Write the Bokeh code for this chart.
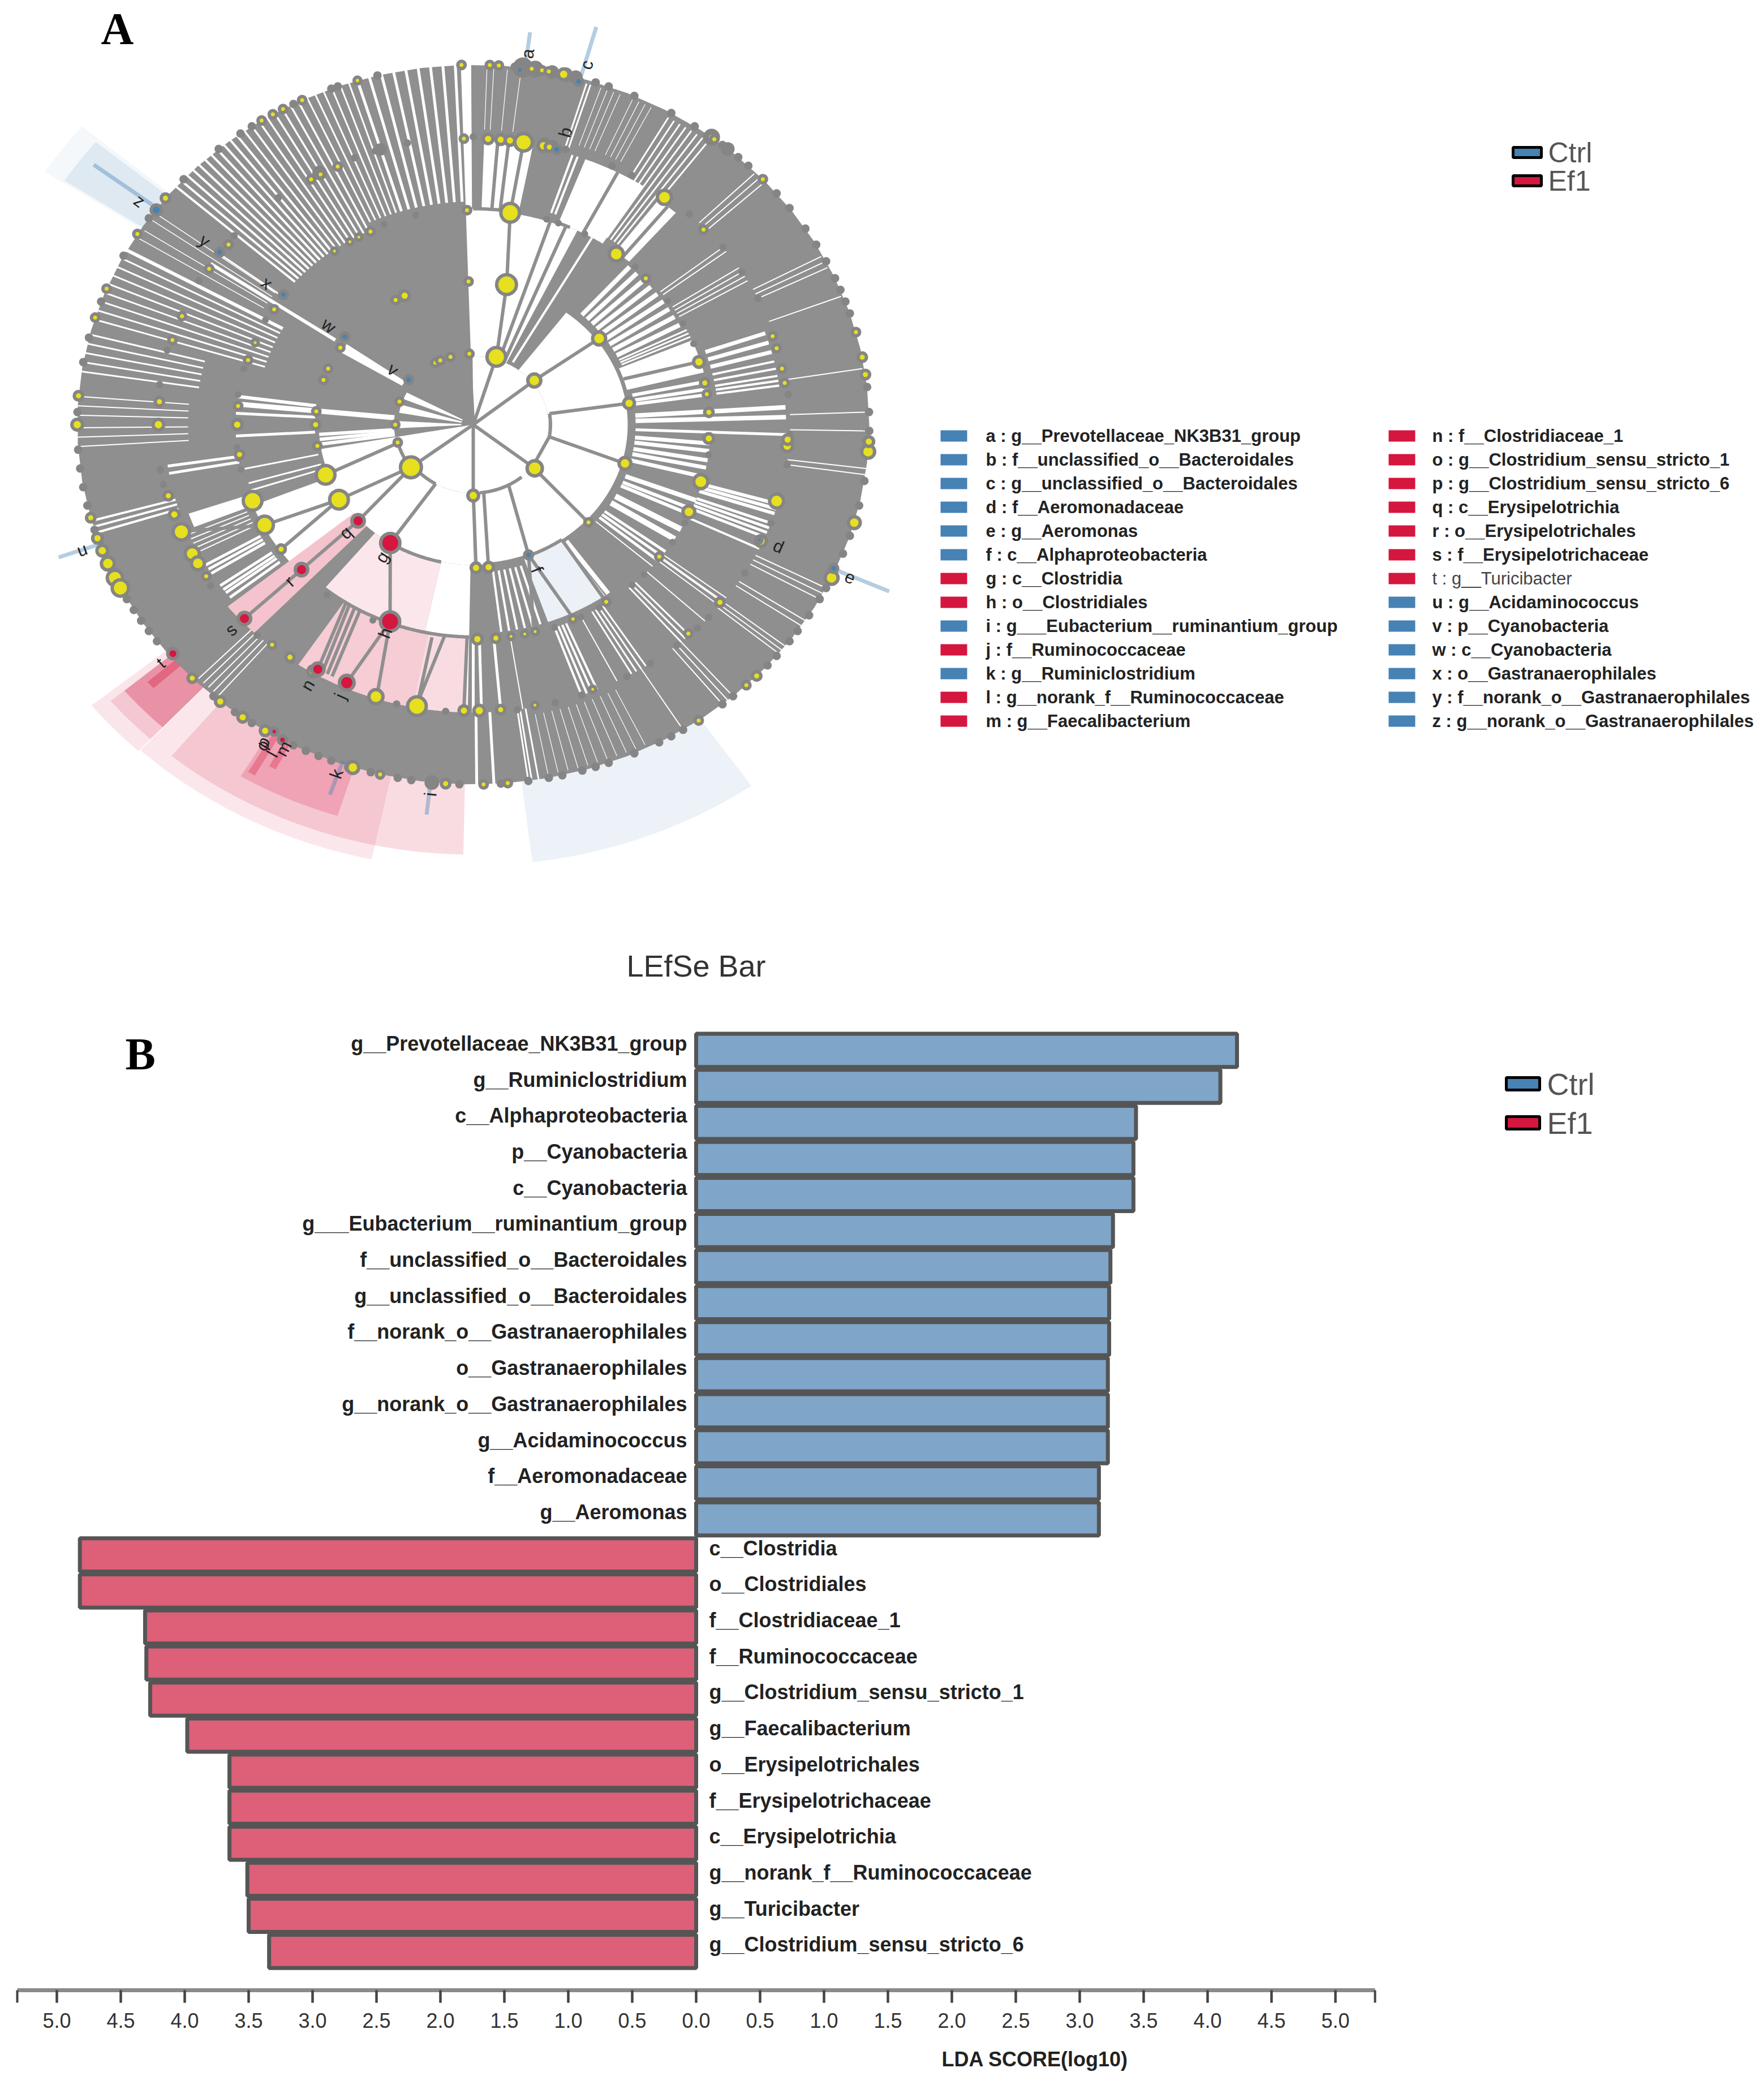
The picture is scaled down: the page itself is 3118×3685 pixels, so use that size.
import numpy as np
from bokeh.plotting import figure
from bokeh.layouts import column
from bokeh.embed import file_html
from bokeh.resources import INLINE
from bokeh.core.properties import value
from bokeh.models import Range1d, FixedTicker, Label, BoxAnnotation

# ---------- data: LDA bars ----------
CTRL_NAMES = ["g__Prevotellaceae_NK3B31_group", "g__Ruminiclostridium", "c__Alphaproteobacteria",
              "p__Cyanobacteria", "c__Cyanobacteria", "g___Eubacterium__ruminantium_group",
              "f__unclassified_o__Bacteroidales", "g__unclassified_o__Bacteroidales",
              "f__norank_o__Gastranaerophilales", "o__Gastranaerophilales",
              "g__norank_o__Gastranaerophilales", "g__Acidaminococcus", "f__Aeromonadaceae", "g__Aeromonas"]
CTRL_LDA = [4.23, 4.10, 3.44, 3.42, 3.42, 3.26, 3.24, 3.23, 3.23, 3.22, 3.22, 3.22, 3.15, 3.15]
EF1_NAMES = ["c__Clostridia", "o__Clostridiales", "f__Clostridiaceae_1", "f__Ruminococcaceae",
             "g__Clostridium_sensu_stricto_1", "g__Faecalibacterium", "o__Erysipelotrichales",
             "f__Erysipelotrichaceae", "c__Erysipelotrichia", "g__norank_f__Ruminococcaceae",
             "g__Turicibacter", "g__Clostridium_sensu_stricto_6"]
EF1_LDA = [-4.82, -4.82, -4.31, -4.30, -4.27, -3.98, -3.65, -3.65, -3.65, -3.51, -3.50, -3.34]
X_TICKS = [-5.0, -4.5, -4.0, -3.5, -3.0, -2.5, -2.0, -1.5, -1.0, -0.5, 0.0, 0.5, 1.0, 1.5, 2.0, 2.5, 3.0, 3.5, 4.0, 4.5, 5.0]
GROUPS = ["Ctrl", "Ef1"]

# ---------- data: cladogram key ----------
KEY_1 = ["a : g__Prevotellaceae_NK3B31_group", "b : f__unclassified_o__Bacteroidales",
         "c : g__unclassified_o__Bacteroidales", "d : f__Aeromonadaceae", "e : g__Aeromonas",
         "f : c__Alphaproteobacteria", "g : c__Clostridia", "h : o__Clostridiales",
         "i : g___Eubacterium__ruminantium_group", "j : f__Ruminococcaceae", "k : g__Ruminiclostridium",
         "l : g__norank_f__Ruminococcaceae", "m : g__Faecalibacterium"]
KEY_1_GROUP = ["C", "C", "C", "C", "C", "C", "E", "E", "C", "E", "C", "E", "E"]
KEY_2 = ["n : f__Clostridiaceae_1", "o : g__Clostridium_sensu_stricto_1", "p : g__Clostridium_sensu_stricto_6",
         "q : c__Erysipelotrichia", "r : o__Erysipelotrichales", "s : f__Erysipelotrichaceae",
         "t : g__Turicibacter", "u : g__Acidaminococcus", "v : p__Cyanobacteria", "w : c__Cyanobacteria",
         "x : o__Gastranaerophilales", "y : f__norank_o__Gastranaerophilales", "z : g__norank_o__Gastranaerophilales"]
KEY_2_GROUP = ["E", "E", "E", "E", "E", "E", "E", "C", "C", "C", "C", "C", "C"]

# ---------- data: cladogram (radius in ring units, angle in degrees) ----------
LETTERS = ["a","b","c","d","e","f","g","h","i","j","k","l","m","n","o","p","q","r","s","t","u","v","w","x","y","z"]
LETTER_R = [1.04,.845,1.04,.842,1.042,.434,.434,.62,1.033,.826,1.03,1.047,1.02,.836,1.038,1.03,.44,.636,.836,1.03,1.047,.254,.457,.653,.849,1.047]
LETTER_T = [82.4,74,74,-23.7,-24,-68.2,-122,-111,-96,-114,-109.6,-119,-118,-120,-120.8,-121,-137,-136.8,-137,-140,-160.6,143,143,143,143,143.6]

# outer shades: r0, r1, t0, t1, colour group, alpha
SHADE_OUT = [
    (.9, 1.235, -132.9, -102, "E", .1), (.9, 1.24, -141, -133, "E", .11),
    (.9, 1.195, -129.6, -91.2, "E", .15), (.9, 1.195, -140, -133, "E", .14),
    (.9, 1.14, -121, -107.5, "E", .2), (.9, 1.15, -140, -133, "E", .3),
    (.9, 1.09, -139, -137.8, "E", .35), (.9, 1.12, -120.5, -119.5, "E", .3), (.9, 1.08, -118.5, -117.5, "E", .3),
    (.9, 1.225, -83, -55, "C", .1), (.9, 1.29, 140, 147, "C", .06), (.9, 1.235, 140.5, 146.7, "C", .12),
]
# white gaps of the tree: r0, r1, t0, t1
WHITE = [
    (0, .19, -170, 90.5), (.03, .19, 152, 158), (.03, .19, 163, 170), (.03, .19, 177, 183),
    (.19, .39, -90, 53), (.19, .39, -170, -90), (.19, .6, 64, 90.5), (.2, 1.0, 90.3, 91.8),
    (.6, .79, 79, 88), (.6, .79, 57, 69), (.6, .78, 49, 53), (.4, .6, 14, 23),
    (.39, .59, -102, -91), (.39, .59, -129.5, -102), (.39, .6, -158, -140.5), (.39, .8, -140.8, -133.7),
    (.59, .8, -123.5, -91), (.39, .58, -71, -55), (.21, .39, 145, 149),
    (.6, .76, -161, -158),
]
# tints over the white gaps: r0, r1, t0, t1, group, alpha
SHADE_IN = [
    (.39, .59, -129.5, -102, "E", .1), (.59, .8, -123.5, -101, "E", .22), (.59, .8, -101, -91.2, "E", .15),
    (.39, .8, -140.8, -133.7, "E", .26), (.39, .58, -71, -55, "C", .11),
]
# white slits: r0, r1, width, angles
SLITS = [
    (.62, 1.006, 5, [92.6, 94.4, 96.2, 98, 99.8, 101.6, 103.4, 105.2, 107]),
    (.62, 1.006, 3, [108.3, 109.6, 110.9, 112.2, 113.5, 114.8]),
    (.6, 1.006, 3.5, [116.2, 117.5, 118.8, 120.1, 121.4, 122.7, 124, 125.3]),
    (.6, 1.006, 4, [126.6, 127.8, 129, 130.2, 131.4, 132.6, 133.8, 135, 136.2, 137.4, 138.6]),
    (.62, .99, 1.5, [143.8, 145, 147, 148.5]),
    (.42, .8, 6, [146]), (.6, .8, 3, [143.5]),
    (.55, 1.006, 6, [151]),
    (.55, 1.006, 3, [152.5, 154, 155.5, 157, 158.5, 160, 161.5, 163]),
    (.7, 1.006, 3, [165.5, 167, 168.5, 170, 171.5]),
    (.72, 1.006, 2, [175.5, 177, 178.5, 180.5, 182, 183.5]),
    (.4, .6, 6, [172.5]), (.2, .6, 9, [174.5]), (.4, .6, 5, [177, 183]),
    (.2, .39, 6, [-176, -174, -172]),
    (.6, .78, 5, [-171.5, -170]),
    (.4, .59, 3, [-168, -164, -162]),
    (.78, 1.0, 4, [-164.5, -163.5, -162.5]),
    (.62, .78, 2, [-157, -156, -155, -154, -153]),
    (.62, .78, 5, [-150, -149, -148, -145, -144, -143.2, -142]),
    (.8, .99, 2, [-134.5, -133.5, -132.5, -131.5, -130.5]),
    (.62, .79, 4, [71.5, 70.5]), (.8, .99, 3, [73.2, 72.6]),
    (.62, .985, 3, [60, 59, 58, 57, 56, 55, 54, 53]),
    (.2, .6, 4, [60]),
    (.41, .59, 8, [48, 45.5, 43, 40.5, 38, 35.5, 33, 30.5, 28]),
    (.41, .6, 3, [26, 25, 24]),
    (.62, .78, 7, [19, 17, 15]), (.62, .78, 4, [13, 11.5, 10, 9, 8]),
    (.41, .6, 6, [11.5, 9.5, 8]),
    (.41, .79, 8, [3.5, 1.5]), (.41, .8, 5, [-2]),
    (.8, .995, 2, [28, 27, 26, 21, 9, 2, 44.5, 43.5, 42.5]),
    (.6, .8, 2, [38, 37, 33, 32, 31, 30]),
    (.41, .6, 7, [-5, -7, -9.5, -11.5, -14]),
    (.41, .6, 8, [-20.5]), (.41, .6, 6, [-23, -24.5]), (.41, .6, 10, [-29, -32]),
    (.41, .6, 5, [-36, -37.5, -39]), (.41, .6, 2, [-41]), (.4, .58, 8, [-54]),
    (.41, .58, 4, [-73, -75, -77, -79, -81, -83]),
    (.6, .8, 4, [-70, -69, -68, -67]), (.6, .8, 3, [-60, -59, -58, -57, -47, -48, -49]),
    (.6, .8, 5, [-90, -88.5, -85]), (.6, .8, 2, [-81, -63, -43, -39, -37]), (.6, .8, 4, [-38, -25.5]),
    (.6, .8, 5, [-23, -22, -21, -20]), (.6, .8, 6, [-18, -17, -16]),
    (.8, 1.0, 2, [-38, -38.8, -39.5, -49, -50, -51, -58, -27, -28, -29, -33, -34, -7, -8, -1]),
    (.8, 1.0, 3, [-82, -81.5, -80.5]), (.8, 1.0, 5, [-89.5, -87]),
    (.82, .99, 1.2, [88, 87, 85, 83, 71, 70, 69, 68, 66, 65, 64, 63, -79, -77.5, -76, -74.5, -73, -71.5, -70, -68.5, -67, -65.5, -64]),
]
# tree branches: r0, t0, r1, t1
BRANCH = [
    (0, 0, .2, 38.5), (0, 0, .2, 72.8), (0, 0, .2, 92.8), (0, 0, .19, -38), (0, 0, .19, -90), (0, 0, .195, -143),
    (.2, 38.5, .398, 37), (.195, 9, .395, 8.6), (.195, -10, .395, -15.7), (.19, -38, .195, -10), (.2, 72.8, .4, 77.8),
    (.4, 77.8, .596, 81), (.596, 81, .79, 80.8), (.2, 70, .6, 71), (.2, 66, .6, 67),
    (.6, 85.5, .79, 85.5), (.6, 83.5, .79, 83.5), (.6, 62.5, .79, 62.5), (.6, 51, .78, 51), (.4, 18.5, .6, 17),
    (.19, -38, .39, -43), (.19, -62, .388, -68.9), (.19, -82, .39, -84.4), (.19, -90, .39, -89), (.39, -89, .6, -89),
    (.39, -84.4, .6, -84.5), (.388, -68.9, .584, -65), (.388, -68.9, .58, -74.8), (.39, -55, .584, -55.7),
    (.195, -143, .395, -137.4), (.195, -143, .398, -148.4), (.19, -120, .39, -122.5), (.39, -122.5, .586, -111),
    (.398, -148.4, .598, -152.1), (.398, -148.4, .597, -144.5), (.197, -165, .397, -159.5), (.397, -159.5, .596, -159.2), (.598, -152.1, .79, -158),
    (.395, -137.4, .592, -137.1), (.592, -137.1, .79, -137),
    (.586, -111, .782, -108), (.586, -111, .785, -114), (.59, -97, .784, -100.3), (.59, -91.5, .78, -91.7),
    (.59, -123, .785, -120), (.59, -122, .785, -119), (.59, -120.5, .785, -118), (.59, -119, .785, -117),
    (.6, -100, .79, -100.3),
]
# arcs: r, t0, t1
ARCS = [(.195, -10, 9), (.19, -85, -50), (.59, -129.5, -91), (.19, -143, -120), (.39, -85, -55), (.6, 66, 90), (.39, -122, -102), (.197, -165, -143)]

# yellow nodes per ring: (theta, size)
YELLOW_10 = [(87.6,10),(86.3,10),(81.5,10),(80,10),(79,10),(76.8,16),(91.7,10),(107,9),(115.6,10),(118.7,10),(120.4,10),(122.3,10),
             (141,12),(148,10),(157.8,10),(162.7,10),(175.4,12),(180,16),(-165,12),(-161.6,14),(-159.5,16),(-157.3,20),(-154.8,24),(-153,26),
             (-135.2,12),(-129.7,14),(-125.6,14),(-121.7,14),(-107.7,18),(-103.6,10),(-94,12),(-88.5,10),(-85,10),(-55.3,10),(-46.4,10),(-44.3,12),
             (-25.2,20),(-15.8,18),(-4.3,20),(-2.7,14),(8,12),(10.8,12),(14.9,10),(43,10),(53,12),(52.5,10)]
YELLOW_08 = [(91.7,10),(87.3,14),(85,14),(83.3,14),(80.8,28),(77.1,16),(76,12),(115.5,10),(119,10),(121,10),(141,10),(147,10),(157.7,10),(162.8,10),
             (175.4,12),(180,16),(-165.6,12),(-161.7,14),(-158,26),(-153.2,22),(-151,20),(-148,10),(-129.7,10),(-125.6,12),(-120.5,16),(-108,22),
             (-100.3,30),(-91.7,14),(-88.9,16),(-85,12),(-78.7,8),(-67.7,8),(-46.9,10),(-38.4,12),(-24,16),(-15.5,22),(-4.3,16),(-3,14),(8.4,10),(11.3,10),(15.5,10),(18,10),(43,10),(52.6,22)]
YELLOW_06 = [(91.5,10),(81,30),(52.7,22),(43,10),(17,16),(11.2,12),(8.2,10),(3.3,12),(-3.7,14),(-15.4,22),(-24,18),(-38,10),(-55.7,10),(-65,9),
             (-74.8,8),(-77.4,8),(-80.8,8),(-84.5,12),(-89,14),(-144.5,12),(-152.1,28),(-159.2,30),(-172,12),(180,14),(175,10),(162.5,10),(157.5,8),(147.5,10),
             (115.8,10),(119,8),(121.5,8),(126,8)]
YELLOW_04 = [(91.7,10),(77.8,32),(37,20),(8.6,16),(-15.7,18),(-43,10),(-84.4,14),(-89,14),(-148.4,30),(-159.5,30),(-171.5,10),(180,12),(174.7,10),
             (161.8,10),(157,10),(147.5,10),(119.5,10),(115.8,14)]
YELLOW_02 = [(38.5,20),(72.8,30),(92.8,10),(-38,24),(-90,16),(-143,34),(-165.4,10),(180,10),(161,10),(119,10),(115,10),(107,10)]
RED_R = [.395,.39,.586,.592,.79,.785,.785,.99,1,.99]
RED_T = [-137.4,-122.5,-111,-137.1,-137,-114,-120,-140,-118.8,-120.5]
RED_S = [22,34,34,22,22,26,22,18,14,12]
BLUE_R = [.993,.99,.793,.994,.388,.8,.6,.406,.205,.998,.79]
BLUE_T = [83.2,74.4,74.6,-23.7,-68.9,143.2,143,143,142.5,143.3,-24]
BLUE_S = [12,14,14,14,14,14,14,14,14,18,10]
GREY_R1 = [78, 84, 75, 72, 70, 66, 60, 56, 51, 48, 46, 40, 37, 33, 30, 27, 24, 22, 20, 18, 6, 2, -1, -9, -13, -18, -21, -27, -29, -32, -35, -37, -40, -42, -49, -51, -58, -60, -62, -66, -70, -72, -74, -77, -79, -82, -86, -92, -96, -99, -101, -105, -111, -113, -115, -117, -124, -127, -131, -143, -145, -147, -149, -151, -163, -167, -170, -173, -176, 178, 170, 166, 160, 152, 145, 137, 130, 126, 124, 117, 111, 110, 104]
GREY_R2 = [90, 73, 64, 60, 47, 38, 32, 26, 6, -2, -8, -20, -31, -42, -45, -50, -56, -61, -70, -75, -82, -95, -104, -125, -133, -146, -168, -171, 172, 165, 150, 139, 128, 112, 108, 102]
GREY_R3 = [72, 69, 62, 47, 35, 28, 22, -8, -27, -33, -44, -48, -58, -63, -70, -115, -128, -168, -171, -174, 172, 165, 151, 112, 104]
# larger grey blobs: r, theta, size
BLOB_R = [1.0, 1.0, 1.0, 1.0, 1.0, .8, .8, 1.0, 1.0, .8, .8, 1.0, 1.0]
BLOB_T = [82.8, 81, 78.5, 76.5, 75, 77, 75.5, 53, 50, 107, 119, -108, -96]
BLOB_S = [36, 30, 24, 26, 24, 24, 22, 30, 24, 22, 26, 24, 26]

# ---------- page geometry ----------
CX, CY, RX, RY = 844, 758, 700, 636
TOP_H = 1626
def ux(px): return (px - CX) / RX
def vy(py): return (CY - py) / RY
def pol(r, t):
    a = np.deg2rad(t)
    return r * np.cos(a), r * np.sin(a)
def sector(r0, r1, t0, t1):
    a = np.linspace(t0, t1, 60)
    x1, y1 = pol(r1, a)
    x0, y0 = pol(r0, a[::-1])
    return list(np.r_[x1, x0]), list(np.r_[y1, y0])

COL = {"C": "#4682b4", "E": "#d5163f"}
GRAY = "#8f8f8f"
HALO = "#858585"
FONT = value("Liberation Sans")

# ---------- panel A ----------
pa = figure(width=3102, height=TOP_H, output_backend="svg", toolbar_location=None,
            x_range=Range1d(ux(8), ux(3110)), y_range=Range1d(vy(8 + TOP_H), vy(8)),
            min_border=0, outline_line_color=None)
pa.axis.visible = False
pa.grid.visible = False

def add_sectors(rows, **kw):
    xs, ys = zip(*[sector(*r[:4]) for r in rows])
    pa.patches(list(xs), list(ys), line_color=None, **kw)

for r in SHADE_OUT:
    add_sectors([r], fill_color=COL[r[4]], fill_alpha=r[5])
disc_x, disc_y = sector(0, 1.0, 0, 360)
pa.patch(disc_x[:60], disc_y[:60], fill_color=GRAY, line_color=None)
add_sectors(WHITE, fill_color="white")
for r in SHADE_IN:
    add_sectors([r], fill_color=COL[r[4]], fill_alpha=r[5])

for r0, r1, w, angs in SLITS:
    xs, ys = [], []
    for t in angs:
        a, b = pol(r0, t), pol(r1, t)
        xs.append([a[0], b[0]]); ys.append([a[1], b[1]])
    pa.multi_line(xs, ys, line_color="white", line_width=w)

bx, by = [], []
for r0, t0, r1, t1 in BRANCH:
    a, b = pol(r0, t0), pol(r1, t1)
    bx.append([a[0], b[0]]); by.append([a[1], b[1]])
for r, t0, t1 in ARCS:
    a = np.linspace(t0, t1, 30)
    x, y = pol(r, a)
    bx.append(list(x)); by.append(list(y))
pa.multi_line(bx, by, line_color=GRAY, line_width=6)

RAY_T = [82.5, 74.3, -23.8, -160.6, -96.2, -109.4, 143]
RAY_R = [1.1, 1.148, 1.148, 1.11, 1.09, 1.09, 1.2]
for t, r in zip(RAY_T, RAY_R):
    a, b = pol(.99, t), pol(r, t)
    pa.line([a[0], b[0]], [a[1], b[1]], line_color="#4682b4", line_alpha=.4, line_width=7)

for rr, ts, s in [(1.0, GREY_R1, 15), (.8, GREY_R2, 13), (.6, GREY_R3, 12)]:
    x, y = pol(rr, np.array(ts, dtype=float))
    pa.scatter(list(x), list(y), size=s, fill_color=HALO, line_color=None)
bl_x, bl_y = pol(np.array(BLOB_R), np.array(BLOB_T))
pa.scatter(list(bl_x), list(bl_y), size=BLOB_S, fill_color=HALO, line_color=None)

for rr, nodes in [(1.0, YELLOW_10), (.795, YELLOW_08), (.596, YELLOW_06), (.398, YELLOW_04), (.197, YELLOW_02)]:
    ts = np.array([n[0] for n in nodes], dtype=float)
    x, y = pol(rr, ts)
    pa.scatter(list(x), list(y), size=[n[1] + 3 for n in nodes], fill_color="#e6e01e", line_color=HALO, line_width=6)
rx_, ry_ = pol(np.array(RED_R), np.array(RED_T))
pa.scatter(list(rx_), list(ry_), size=RED_S, fill_color="#d5163f", line_color=HALO, line_width=6)
bx_, by_ = pol(np.array(BLUE_R), np.array(BLUE_T))
pa.scatter(list(bx_), list(by_), size=BLUE_S, fill_color="#4682b4", line_color=HALO, line_width=6)

lx, ly = pol(np.array(LETTER_R), np.array(LETTER_T))
lang = [t if -90 < t < 90 else t + 180 for t in LETTER_T]
pa.text(list(lx), list(ly), text=LETTERS, angle=lang, angle_units="deg", text_font=FONT,
        text_font_size="31px", text_color="#222222", text_align="center", text_baseline="middle")

pa.text([ux(186)], [vy(58)], text=["A"], text_font=value("Liberation Serif"), text_font_style="bold",
        text_font_size="80px", text_color="black", text_baseline="middle")

# key
ROW0, ROW_H = 778, 42
for col_x, txt_x, names, groups in [(1670, 1750, KEY_1, KEY_1_GROUP), (2462, 2539, KEY_2, KEY_2_GROUP)]:
    tops = [ROW0 + i * ROW_H for i in range(len(names))]
    pa.quad(left=[ux(col_x)] * len(names), right=[ux(col_x + 47)] * len(names),
            top=[vy(t - 10) for t in tops], bottom=[vy(t + 10) for t in tops],
            fill_color=[COL[g] for g in groups], line_color=None)
    strong = [i for i, n in enumerate(names) if not n.startswith("t :")]
    pa.text([ux(txt_x)] * len(strong), [vy(tops[i]) for i in strong], text=[names[i] for i in strong],
            text_font=FONT, text_font_style="bold", text_font_size="31px", text_color="#222222", text_baseline="middle")
    light = [i for i, n in enumerate(names) if n.startswith("t :")]
    if light:
        pa.text([ux(txt_x)] * len(light), [vy(tops[i]) for i in light], text=[names[i] for i in light],
                text_font=FONT, text_font_size="31px", text_color="#444444", text_baseline="middle")

# Ctrl / Ef1 legend of panel A
pa.quad(left=[ux(2682)] * 2, right=[ux(2732)] * 2, top=[vy(277 - 9), vy(327 - 9)], bottom=[vy(277 + 9), vy(327 + 9)],
        fill_color=[COL["C"], COL["E"]], line_color="black", line_width=5)
pa.text([ux(2744)] * 2, [vy(277), vy(327)], text=GROUPS, text_font=FONT, text_font_size="50px",
        text_color="#555555", text_baseline="middle")

# ---------- panel B ----------
B_TOP = 8 + TOP_H
B_H = 3672 - B_TOP
ZERO_PX, ROW0_PX, UNIT, BAR_H = 1238, 1863.85, 226, 63.7
def bx_of(px): return (px - ZERO_PX) / UNIT
def by_of(py): return (ROW0_PX - py) / BAR_H
AXIS_Y = by_of(3525)
AX_END = 1200 / UNIT

pb = figure(width=3102, height=B_H, output_backend="svg", toolbar_location=None,
            x_range=Range1d(bx_of(8), bx_of(3110)), y_range=Range1d(by_of(B_TOP + B_H), by_of(B_TOP)),
            min_border=0, outline_line_color=None)
pb.grid.visible = False
pb.yaxis.visible = False

Y_CTRL = [-i for i in range(len(CTRL_NAMES))]
Y_EF1 = [-(i + len(CTRL_NAMES)) for i in range(len(EF1_NAMES))]

pb.hbar(y=Y_CTRL, left=0, right=CTRL_LDA, height=.92, fill_color="#7fa5c8", line_color="#555555", line_width=7)
pb.hbar(y=Y_EF1, left=0, right=EF1_LDA, height=.92, fill_color="#dd5f78", line_color="#555555", line_width=7)

pb.text([0] * len(CTRL_NAMES), Y_CTRL, text=CTRL_NAMES, x_offset=-16, y_offset=-12, text_align="right",
        text_baseline="middle", text_font=FONT, text_font_style="bold", text_font_size="36px", text_color="#222222")
pb.text([0] * len(EF1_NAMES), Y_EF1, text=EF1_NAMES, x_offset=23, y_offset=-12, text_align="left",
        text_baseline="middle", text_font=FONT, text_font_style="bold", text_font_size="36px", text_color="#222222")

ax = pb.xaxis[0]
ax.fixed_location = AXIS_Y
ax.ticker = FixedTicker(ticks=X_TICKS)
ax.bounds = (-AX_END, AX_END)
ax.major_label_overrides = {t: f"{abs(t):.1f}" for t in X_TICKS}
ax.axis_line_color = "#8a8a8a"
ax.axis_line_width = 7
ax.major_tick_line_color = "#444444"
ax.major_tick_line_width = 4
ax.major_tick_in = 0
ax.major_tick_out = 22
ax.minor_tick_line_color = None
ax.major_label_standoff = 18
ax.major_label_text_font = "Liberation Sans"
ax.major_label_text_font_size = "36px"
ax.major_label_text_color = "#333333"

# end caps of the axis line
TICK_H = 22 / BAR_H
TICK_W = 2 / UNIT
for t in X_TICKS + [-AX_END, AX_END]:
    pb.add_layout(BoxAnnotation(left=t - TICK_W, right=t + TICK_W, top=AXIS_Y, bottom=AXIS_Y - TICK_H,
                                fill_color="#444444", fill_alpha=1, line_color=None))

pb.add_layout(Label(x=0, y=by_of(1714), text="LEfSe Bar", text_align="center", text_baseline="middle",
                    text_font="Liberation Sans", text_font_size="54px", text_color="#333333"))
pb.add_layout(Label(x=2.65, y=AXIS_Y - 122 / BAR_H, text="LDA SCORE(log10)", text_align="center",
                    text_baseline="middle", text_font="Liberation Sans", text_font_style="bold",
                    text_font_size="36px", text_color="#222222"))
pb.add_layout(Label(x=(217 - 1226) / UNIT, y=0, y_offset=-7, text="B", text_align="left", text_baseline="middle",
                    text_font="Liberation Serif", text_font_style="bold", text_font_size="80px", text_color="black"))

# Ctrl / Ef1 legend of panel B
pb.quad(left=[bx_of(2670)] * 2, right=[bx_of(2729)] * 2, top=[by_of(1923 - 11), by_of(1992 - 11)],
        bottom=[by_of(1923 + 11), by_of(1992 + 11)], fill_color=[COL["C"], COL["E"]], line_color="black", line_width=5)
pb.text([bx_of(2742)] * 2, [by_of(1923), by_of(1992)], text=GROUPS, text_font=FONT, text_font_size="54px",
        text_color="#555555", text_baseline="middle")

open("out.html", "w").write(file_html(column(pa, pb, spacing=0, width=3102, height=3664), INLINE))
